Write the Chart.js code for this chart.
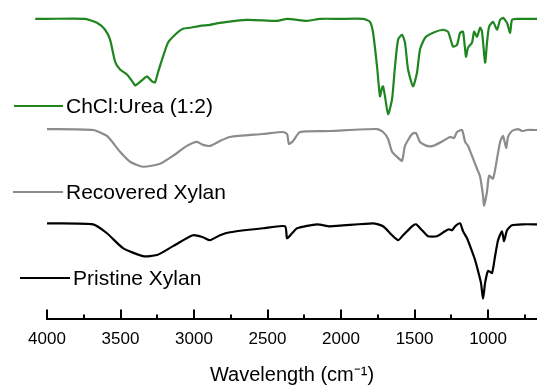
<!DOCTYPE html>
<html>
<head>
<meta charset="utf-8">
<script src="https://cdn.jsdelivr.net/npm/chart.js@4.4.0/dist/chart.umd.min.js"></script>
<style>
  html, body { margin: 0; padding: 0; background: #fff; }
</style>
</head>
<body>
<canvas id="grafico" width="537" height="387"></canvas>
<script>
// Número de onda (cm-1) e sinal (unidades arbitrárias, curvas deslocadas)
var numOndaUreia = [4080, 4000, 3741, 3660, 3605, 3571, 3537, 3503, 3456, 3415, 3401, 3388, 3347, 3320, 3286, 3265, 3245, 3211, 3177, 3129, 3075, 3027, 2959, 2891, 2823, 2639, 2435, 2367, 2231, 2143, 2007, 1850, 1803, 1782, 1755, 1735, 1721, 1714, 1701, 1680, 1653, 1633, 1612, 1585, 1565, 1544, 1510, 1483, 1463, 1428, 1374, 1306, 1272, 1238, 1211, 1190, 1170, 1150, 1136, 1109, 1095, 1075, 1054, 1041, 1020, 1007, 993, 966, 939, 918, 898, 871, 850, 837, 803, 667];
var sinalUreia = [302, 302, 302, 298, 291, 281, 259, 251, 246, 238, 235, 236, 241, 244, 239, 238, 248, 264, 278, 286, 292, 293, 295, 296, 298, 301, 300, 302, 300, 302, 302, 302, 299, 288, 254, 224, 233, 234, 224, 206, 221, 254, 281, 286, 278, 251, 234, 248, 271, 283, 288, 291, 289, 274, 276, 288, 289, 264, 273, 278, 289, 284, 293, 289, 258, 278, 294, 299, 291, 301, 303, 298, 288, 301, 302, 302];

var numOndaRecuperada = [4000, 3687, 3592, 3503, 3435, 3347, 3231, 3143, 3048, 2980, 2939, 2891, 2823, 2755, 2531, 2395, 2367, 2354, 2326, 2279, 2075, 1755, 1714, 1680, 1653, 1619, 1585, 1565, 1517, 1490, 1463, 1415, 1374, 1306, 1258, 1231, 1211, 1177, 1156, 1136, 1109, 1075, 1054, 1034, 1027, 1007, 993, 966, 939, 918, 898, 877, 864, 837, 796, 769, 735, 667];
var sinalRecuperada = [191, 190, 184, 168, 158, 153, 156, 164, 174, 178, 175, 174, 179, 183, 186, 188, 186, 176, 179, 188, 189, 191, 188, 181, 168, 163, 159, 174, 186, 187, 178, 174, 174, 179, 183, 182, 188, 190, 178, 174, 164, 151, 143, 124, 114, 128, 144, 141, 161, 178, 184, 172, 183, 189, 191, 189, 190, 190];

var numOndaPristina = [4000, 3687, 3592, 3483, 3347, 3252, 3143, 3007, 2939, 2891, 2823, 2755, 2531, 2381, 2367, 2333, 2299, 2163, 2075, 1782, 1714, 1653, 1612, 1578, 1517, 1490, 1449, 1408, 1347, 1293, 1265, 1245, 1224, 1190, 1170, 1143, 1122, 1088, 1068, 1048, 1034, 1020, 1000, 973, 952, 932, 905, 891, 871, 837, 762, 667];
var sinalPristina = [96, 95, 86, 71, 63, 64, 73, 84, 82, 79, 84, 87, 91, 93, 81, 86, 91, 95, 93, 96, 93, 84, 79, 84, 93, 95, 89, 83, 83, 88, 90, 89, 93, 96, 88, 81, 73, 59, 48, 36, 20, 36, 48, 46, 63, 79, 88, 78, 89, 94, 95, 95];

var marcasX = [4000, 3750, 3500, 3250, 3000, 2750, 2500, 2250, 2000, 1750, 1500, 1250, 1000, 750];

function pares(xs, ys) {
    return xs.map((x, i) => ({ x: x, y: ys[i] }));
}

// Marcas do eixo (para dentro) e rótulos das curvas
var extras = {
    id: 'extras',
    afterDatasetsDraw(chart) {
        var ctx = chart.ctx;
        var x = chart.scales.x;
        var base = chart.chartArea.bottom;
        ctx.save();
        ctx.strokeStyle = '#000';
        ctx.lineWidth = 2;
        marcasX.forEach(v => {
            var px = Math.round(x.getPixelForValue(v));
            var comp = v % 500 === 0 ? 9 : 4;
            ctx.beginPath();
            ctx.moveTo(px, base);
            ctx.lineTo(px, base - comp);
            ctx.stroke();
        });

        var rotulos = [
            { texto: 'ChCl:Urea (1:2)', cor: '#1f851f', x0: 14, x1: 63, y: 106 },
            { texto: 'Recovered Xylan', cor: '#8c8c8c', x0: 13, x1: 63, y: 192 },
            { texto: 'Pristine Xylan', cor: '#000000', x0: 20, x1: 70, y: 278 }
        ];
        ctx.font = '21px "Liberation Sans", Arial, sans-serif';
        ctx.textBaseline = 'middle';
        rotulos.forEach(r => {
            ctx.strokeStyle = r.cor;
            ctx.lineWidth = 2;
            ctx.beginPath();
            ctx.moveTo(r.x0, r.y);
            ctx.lineTo(r.x1, r.y);
            ctx.stroke();
            ctx.fillStyle = '#000';
            ctx.fillText(r.texto, r.x1 + 3, r.y + 1);
        });
        ctx.restore();
    }
};

var ctx = document.getElementById('grafico').getContext('2d');
new Chart(ctx, {
    type: 'line',
    data: {
        datasets: [{
            label: 'ChCl:Urea (1:2)',
            data: pares(numOndaUreia, sinalUreia),
            borderColor: '#1f851f',
            borderWidth: 2.2,
            clip: false
        }, {
            label: 'Recovered Xylan',
            data: pares(numOndaRecuperada, sinalRecuperada),
            borderColor: '#8c8c8c',
            borderWidth: 2.2,
            clip: false
        }, {
            label: 'Pristine Xylan',
            data: pares(numOndaPristina, sinalPristina),
            borderColor: '#000000',
            borderWidth: 2.2,
            clip: false
        }]
    },
    options: {
        responsive: false,
        animation: false,
        layout: { padding: { left: 47, right: 0, top: 0, bottom: 0 } },
        elements: { point: { radius: 0 }, line: { tension: 0.2 } },
        plugins: { legend: { display: false }, tooltip: { enabled: false } },
        scales: {
            x: {
                type: 'linear',
                reverse: true,
                min: 667,
                max: 4000,
                afterBuildTicks: s => { s.ticks = marcasX.map(v => ({ value: v })); },
                grid: { drawOnChartArea: false, drawTicks: false },
                border: { display: true, color: '#000', width: 2 },
                ticks: {
                    color: '#000',
                    font: { size: 17, family: '"Liberation Sans", Arial, sans-serif' },
                    padding: 11,
                    maxRotation: 0,
                    autoSkip: false,
                    callback: v => v % 500 === 0 ? v : ''
                },
                title: {
                    display: true,
                    text: 'Wavelength (cm⁻¹)',
                    color: '#000',
                    font: { size: 20, family: '"Liberation Sans", Arial, sans-serif' },
                    padding: { top: 2, bottom: 0 }
                }
            },
            y: { display: false, min: 0, max: 321 }
        }
    },
    plugins: [extras]
});
</script>
</body>
</html>
